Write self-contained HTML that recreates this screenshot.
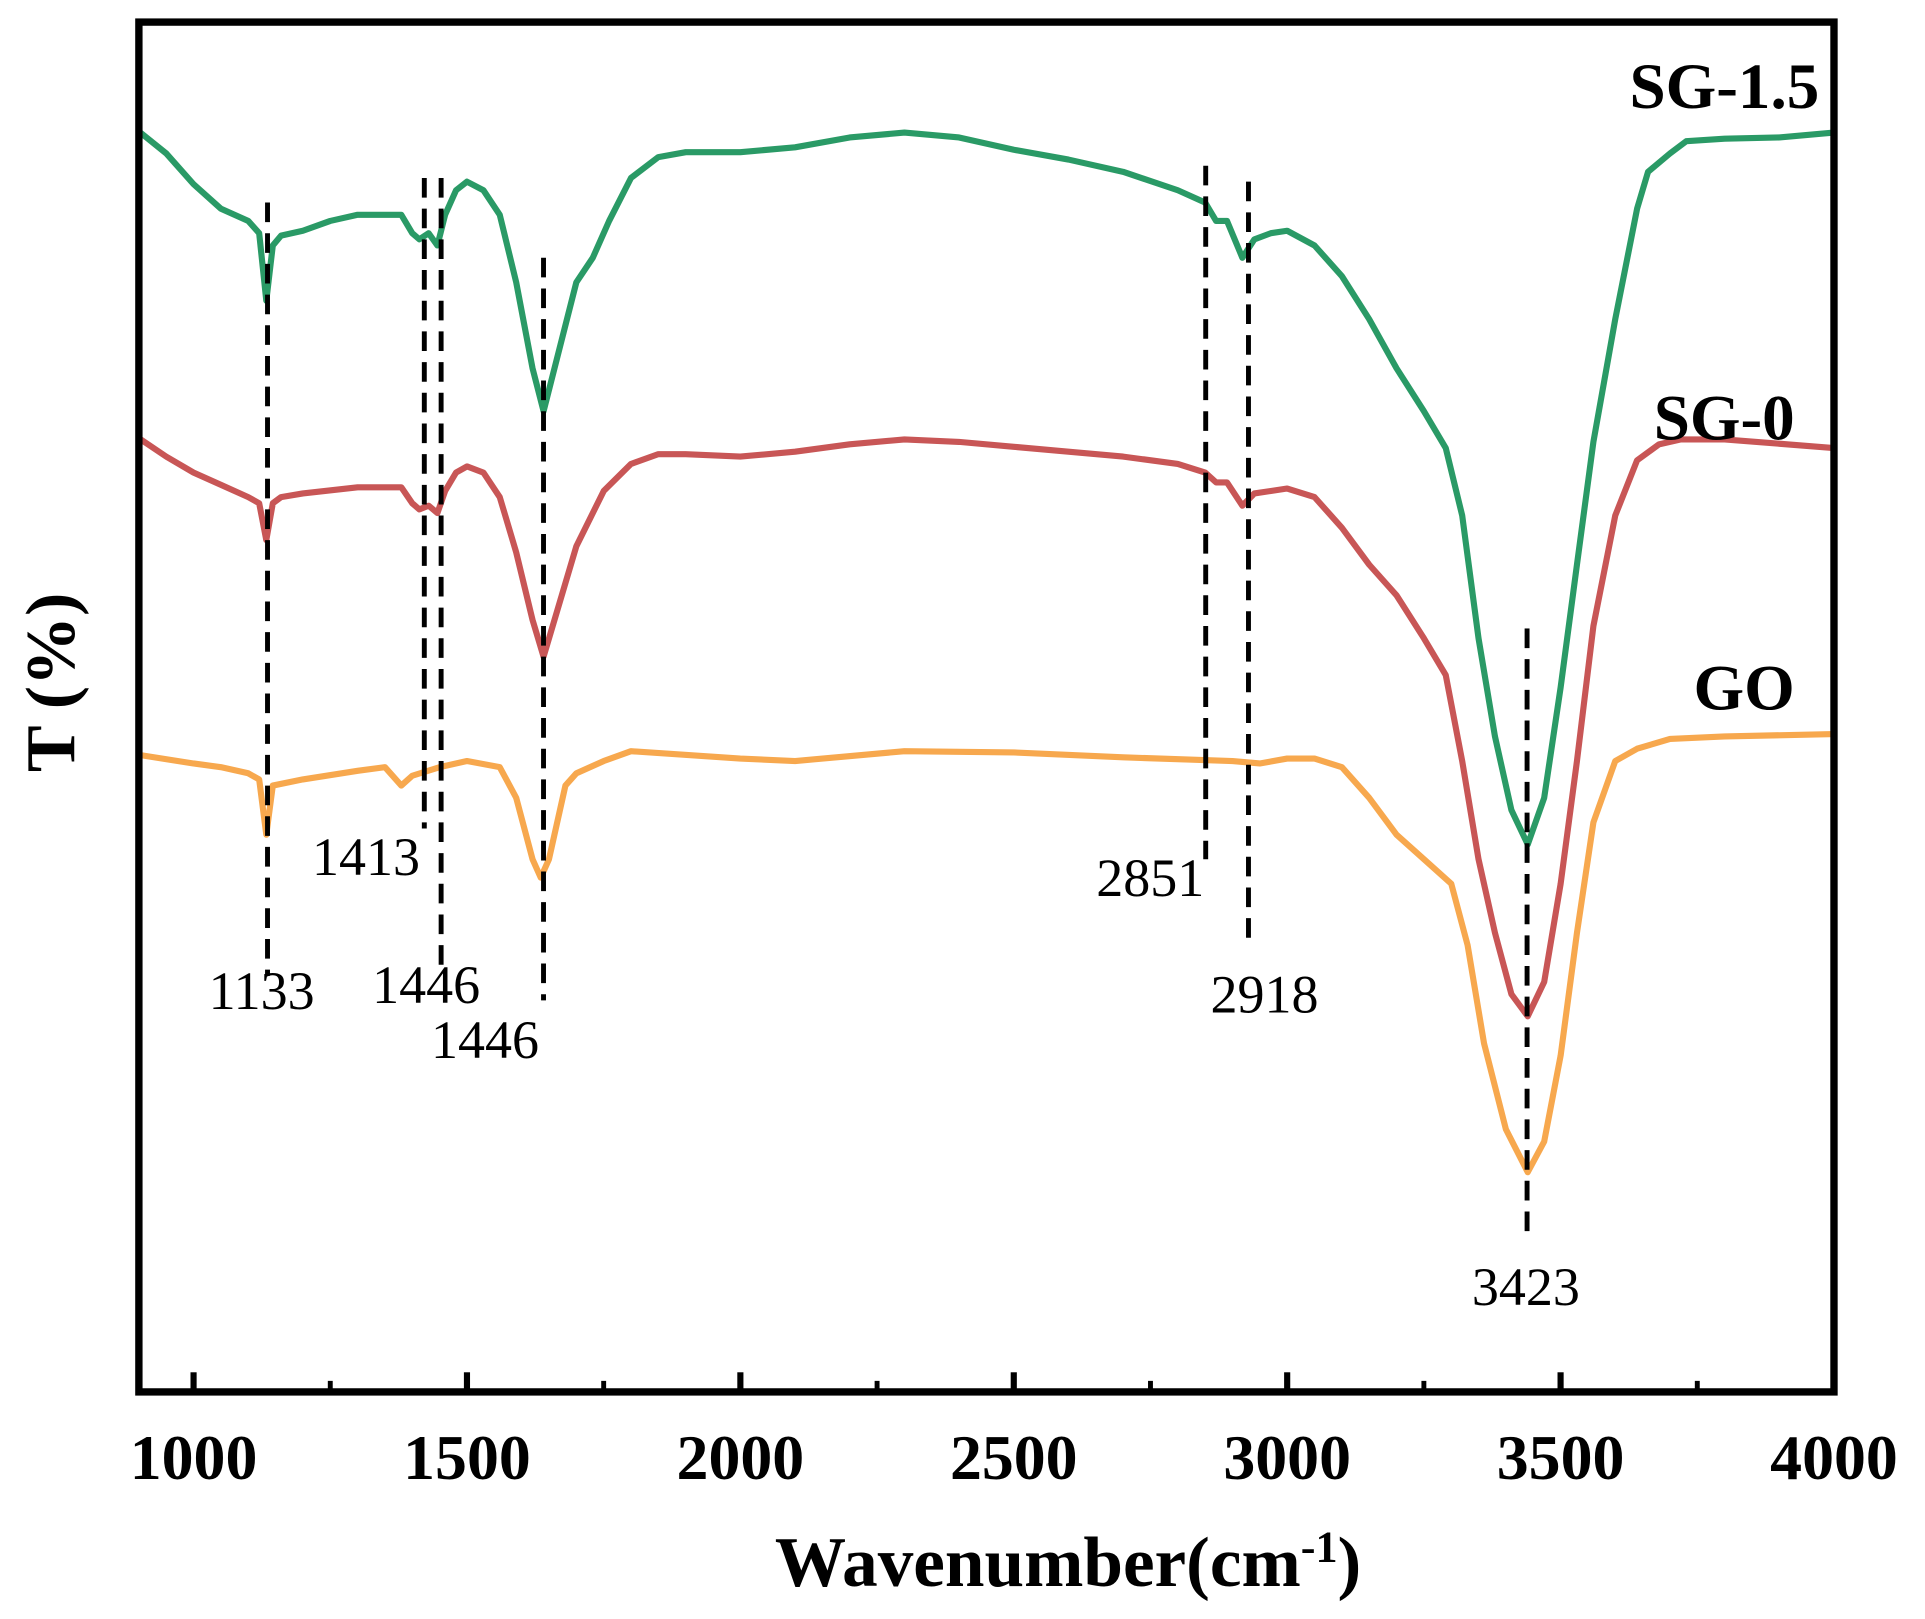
<!DOCTYPE html>
<html><head><meta charset="utf-8"><style>
html,body{margin:0;padding:0;background:#fff;}
svg{display:block;}
text{font-family:"Liberation Serif",serif;}
</style></head><body>
<svg id="chart" width="1925" height="1619" viewBox="0 0 1568 1319" xmlns="http://www.w3.org/2000/svg"></svg>
<script>
const xTicks=[1000,1500,2000,2500,3000,3500,4000];
const xMinor=[1250,1750,2250,2750,3250,3750];
const sgWave=[900,950,1000,1050,1100,1120,1133,1145,1160,1200,1250,1300,1350,1380,1400,1413,1430,1446,1460,1480,1500,1530,1560,1590,1620,1640,1660,1700,1730,1760,1800,1850,1900,2000,2100,2200,2300,2400,2500,2600,2700,2800,2850,2870,2890,2918,2940,2970,3000,3050,3100,3150,3200,3250,3290,3320,3350,3380,3410,3440,3470,3500,3530,3560,3600,3640,3660,3700,3730,3800,3900,4000];
const sg15Vals=[1027,1009,984,964,954,944,889,934,942,946,954,959,959,959,944,939,944,934,959,979,986,979,959,904,834,799,834,904,924,954,989,1006,1010,1010,1014,1022,1026,1022,1012,1004,994,979,969,954,954,924,939,944,946,934,909,874,834,799,769,714,614,534,474,446,484,574,674,774,874,964,994,1009,1019,1021,1022,1026];
const sg0Wave=[900,950,1000,1050,1100,1120,1133,1145,1160,1200,1300,1380,1400,1413,1430,1446,1460,1480,1500,1530,1560,1590,1620,1640,1660,1700,1750,1800,1850,1900,2000,2100,2200,2300,2400,2500,2600,2700,2800,2850,2870,2890,2918,2940,2970,3000,3050,3100,3150,3200,3250,3290,3320,3350,3380,3410,3440,3470,3500,3530,3560,3600,3640,3680,3720,3800,4000];
const sg0Vals=[777,762,749,739,729,724,694,724,729,732,737,737,724,719,722,716,734,749,754,749,729,684,629,599,629,689,734,756,764,764,762,766,772,776,774,770,766,762,756,749,741,741,722,732,734,736,729,704,674,649,614,584,514,434,374,324,306,334,414,514,624,714,759,772,776,776,769];
const goWave=[900,1000,1050,1100,1120,1133,1145,1200,1300,1350,1380,1400,1450,1500,1560,1590,1620,1635,1650,1680,1700,1750,1800,2000,2100,2300,2500,2700,2900,2950,3000,3050,3100,3150,3200,3250,3300,3330,3360,3400,3440,3470,3500,3530,3560,3600,3640,3700,3800,4000];
const goVals=[519,512,509,504,499,454,494,499,506,509,494,502,509,514,509,484,434,419,434,494,504,514,522,516,514,522,521,517,514,512,516,516,509,484,454,434,414,364,284,214,179,204,274,374,464,514,524,532,534,536];
const peakPos=[1133,1413,1446,1640,2851,2918,3423];
const peakLabels=["1133","1413","1446","1446","2851","2918","3423"];

const X0=113,X1=1494,Y0=18,Y1=1134;
const xs=v=>X0+(v-900)/(4000-900)*(X1-X0);
const ys=v=>Y1-v;
const NS="http://www.w3.org/2000/svg";
const svg=document.getElementById('chart');
function mk(t,a,txt){const e=document.createElementNS(NS,t);for(const k in a)e.setAttribute(k,a[k]);if(txt!=null)e.textContent=txt;svg.appendChild(e);return e;}

function series(w,v,col,name){
  let d='';for(let i=0;i<w.length;i++)d+=(i?'L':'M')+xs(w[i]).toFixed(1)+','+ys(v[i]).toFixed(1);
  const p=mk('path',{d:d,fill:'none',stroke:col,'stroke-width':5,'stroke-linejoin':'round'});
  
  
}
series(goWave,goVals,'#f7a84e','go-line');
series(sg0Wave,sg0Vals,'#c85656','sg-0-line');
series(sgWave,sg15Vals,'#2a9a66','sg-1-5-line');

const dashRanges=[[165,795],[145,675],[145,790],[210,815],[135,700],[148,765],[512,1005]];
const dashOffset=[1,4,3,0,0,5,7];
const labelPos=[[213,822],[298,713],[347,817],[395,862],[937,730],[1030,825],[1243,1063]];
for(let i=0;i<peakPos.length;i++){
  let px=(i===3?xs(1640):xs(peakPos[i]))+dashOffset[i];
  const l=mk('line',{x1:px,x2:px,y1:dashRanges[i][0],y2:dashRanges[i][1],stroke:'#000','stroke-width':4,'stroke-dasharray':'16,9'});
  
  
  const t=mk('text',{x:labelPos[i][0],y:labelPos[i][1],'font-size':44,'text-anchor':'middle'},peakLabels[i]);
  
  
}

const f=mk('rect',{x:X0,y:Y0,width:X1-X0,height:Y1-Y0,fill:'none',stroke:'#000','stroke-width':6});


xTicks.forEach(v=>{
  const t=mk('line',{x1:xs(v),x2:xs(v),y1:Y1,y2:Y1-16,stroke:'#000','stroke-width':5});
  
  
  const l=mk('text',{x:xs(v),y:1205,'font-size':52,'font-weight':'bold','text-anchor':'middle'},String(v));
  
  
});
xMinor.forEach(v=>{
  const t=mk('line',{x1:xs(v),x2:xs(v),y1:Y1,y2:Y1-9,stroke:'#000','stroke-width':4});
  
  
});
const xt=mk('text',{x:870,y:1292,'font-size':58,'font-weight':'bold','text-anchor':'middle'});
xt.innerHTML='Wavenumber(cm<tspan dy="-20" font-size="36">-1</tspan><tspan dy="20">)</tspan>';


const yt=mk('text',{x:0,y:0,'font-size':57,'font-weight':'bold','text-anchor':'middle',transform:'translate(60,556) rotate(-90)'},'T (%)');



[['SG-1.5',1482,88,'label-sg-1-5'],['SG-0',1462,358,'label-sg-0'],['GO',1462,578,'label-go']].forEach(a=>{
  const t=mk('text',{x:a[1],y:a[2],'font-size':53,'font-weight':'bold','text-anchor':'end'},a[0]);
  
  
});
</script>
</body></html>
